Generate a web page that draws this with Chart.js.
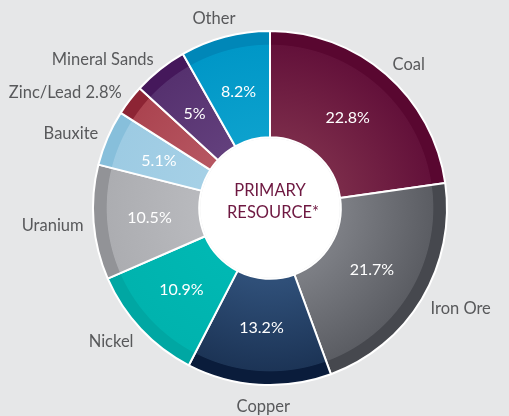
<!DOCTYPE html>
<html>
<head>
<meta charset="utf-8">
<script src="https://cdn.jsdelivr.net/npm/chart.js@4"></script>
<style>
  html, body { margin: 0; padding: 0; background: #e6e7e8; }
  #wrap { width: 509px; height: 416px; }
</style>
</head>
<body>
<div id="wrap"><canvas id="resourceDonut" width="509" height="416"></canvas></div>
<script>
// data
const resourceLabels = ["Coal", "Iron Ore", "Copper", "Nickel", "Uranium", "Bauxite", "Zinc/Lead", "Mineral Sands", "Other"];
const resourceValues = [22.8, 21.7, 13.2, 10.9, 10.5, 5.1, 2.8, 5, 8.2];
const valueLabels = ["22.8%", "21.7%", "13.2%", "10.9%", "10.5%", "5.1%", "", "5%", "8.2%"];
const outerLabels = ["Coal", "Iron Ore", "Copper", "Nickel", "Uranium", "Bauxite", "Zinc/Lead 2.8%", "Mineral Sands", "Other"];
// colours: [inner, outer, rim band]
const sliceColors = [
    ["#7a2a49", "#63113a", "#590730"],
    ["#7c7e84", "#5b5d63", "#46484e"],
    ["#2f4f78", "#1c3456", "#0a1c3b"],
    ["#00b8b3", "#00b3ae", "#00a7a3"],
    ["#b8b9bd", "#acadb1", "#929397"],
    ["#a5d0e6", "#9dcbe3", "#87bfdb"],
    ["#b65661", "#ab4450", "#8d2434"],
    ["#623f7c", "#56316f", "#45185b"],
    ["#0ca1cd", "#0097c7", "#0087b8"]
];

const FONT = "Lato, 'Open Sans', sans-serif";

// radial gradient per slice, lighter near the hole and a darker band at the rim
function slice_gradient(context) {
    const chart = context.chart;
    const area = chart.chartArea;
    const c = sliceColors[context.dataIndex];
    if (!area) { return c[1]; }
    const cx = (area.left + area.right) / 2;
    const cy = (area.top + area.bottom) / 2;
    const r = Math.min(area.right - area.left, area.bottom - area.top) / 2;
    const g = chart.ctx.createRadialGradient(cx, cy, 0, cx, cy, r);
    g.addColorStop(0, c[0]);
    g.addColorStop(0.42, c[0]);
    g.addColorStop(0.915, c[1]);
    g.addColorStop(0.92, c[2]);
    g.addColorStop(1, c[2]);
    return g;
}

// white hole with the centre caption
const centerPlugin = {
    id: "centerText",
    afterDatasetsDraw(chart) {
        const meta = chart.getDatasetMeta(0);
        const arc = meta.data[0];
        if (!arc) { return; }
        const ctx = chart.ctx;
        ctx.save();
        ctx.beginPath();
        ctx.arc(arc.x, arc.y, arc.innerRadius - 1, 0, Math.PI * 2);
        ctx.fillStyle = "#ffffff";
        ctx.fill();
        ctx.fillStyle = "#6e1841";
        ctx.font = "16.5px " + FONT;
        ctx.textAlign = "center";
        ctx.textBaseline = "middle";
        ctx.fillText("PRIMARY", arc.x, arc.y - 17);
        ctx.fillText("RESOURCE*", arc.x + 3, arc.y + 5);
        ctx.restore();
    }
};

// percentages inside slices and names outside
const labelPlugin = {
    id: "sliceLabels",
    afterDatasetsDraw(chart) {
        const meta = chart.getDatasetMeta(0);
        const ctx = chart.ctx;
        ctx.save();
        meta.data.forEach((arc, i) => {
            const mid = (arc.startAngle + arc.endAngle) / 2;
            const inR = (arc.innerRadius + arc.outerRadius) / 2 - 4;
            ctx.font = "16px " + FONT;
            ctx.fillStyle = "#ffffff";
            ctx.textAlign = "center";
            ctx.textBaseline = "middle";
            if (valueLabels[i]) {
                ctx.fillText(valueLabels[i], arc.x + Math.cos(mid) * inR - 1, arc.y + Math.sin(mid) * inR);
            }
            const outR = arc.outerRadius + 10;
            const x = arc.x + Math.cos(mid) * outR;
            const y = arc.y + Math.sin(mid) * outR + 2 + 5 * Math.sin(mid);
            ctx.font = "16.5px " + FONT;
            ctx.fillStyle = "#58595b";
            if (x > arc.x + 30) {
                ctx.textAlign = "left";
            } else if (x < arc.x - 30) {
                ctx.textAlign = "right";
            } else {
                ctx.textAlign = "center";
            }
            if (y > arc.y + arc.outerRadius - 10) {
                ctx.textBaseline = "top";
                ctx.fillText(outerLabels[i], x + 5, y - 3);
            } else if (y < arc.y - arc.outerRadius + 10) {
                ctx.textBaseline = "bottom";
                ctx.fillText(outerLabels[i], x + 13, y + 3);
            } else {
                ctx.fillText(outerLabels[i], x, y);
            }
        });
        ctx.restore();
    }
};

const resourceChart = new Chart("resourceDonut", {
    type: "doughnut",
    data: {
        labels: resourceLabels,
        datasets: [{
            data: resourceValues,
            backgroundColor: slice_gradient,
            borderColor: "#ffffff",
            borderWidth: 2,
            borderAlign: "center"
        }]
    },
    options: {
        responsive: false,
        animation: false,
        cutout: "40%",
        rotation: 0,
        layout: { padding: { left: 92, right: 61, top: 29, bottom: 29 } },
        plugins: {
            legend: { display: false },
            tooltip: { enabled: false }
        }
    },
    plugins: [centerPlugin, labelPlugin]
});
</script>
</body>
</html>
